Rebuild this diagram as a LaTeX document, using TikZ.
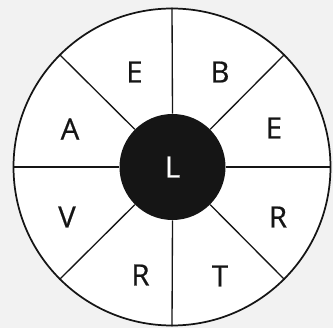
\documentclass[tikz,border=0pt]{standalone}
\usepackage{fontspec}
\setmainfont{Open Sans}
\newfontfamily\wheelfont{Open Sans}[FakeBold=0.6]
\definecolor{backdrop}{HTML}{F2F2F2}
\definecolor{ink}{HTML}{151515}
\tikzset{
  wheel/.style={circle, draw=ink, fill=white, line width=1.3pt, minimum size=237.75pt, inner sep=0pt},
  hub/.style={circle, fill=ink, text=white, minimum size=79.5pt, inner sep=0pt, font=\wheelfont\fontsize{22}{22}\selectfont},
  spoke/.style={draw=ink, line width=1pt},
  letter/.style={text=ink, inner sep=0pt, font=\wheelfont\fontsize{22}{22}\selectfont},
}

\begin{document}
\begin{tikzpicture}[x=0.75pt, y=-0.75pt]
    \fill[backdrop] (0,0) rectangle (333,328);
    \useasboundingbox (0,0) rectangle (333,328);
    \clip (0,0) rectangle (333,328);

    \node[wheel] (rim) at (172,167) {};
    \node[hub] (hub) at (172.5,167) {L};
    \foreach \a in {0,45,...,315}
      \draw[spoke] (hub.\a) -- (rim.\a);

    \node[letter] (topleft) at (134.5,72) {E};
    \node[letter] (topright) at (220,72) {B};
    \node[letter] (upleft) at (70,129) {A};
    \node[letter] (upright) at (274,128) {E};
    \node[letter] (lowleft) at (67,217) {V};
    \node[letter] (lowright) at (278,217) {R};
    \node[letter] (botleft) at (140.5,275) {R};
    \node[letter] (botright) at (220,276) {T};
  \end{tikzpicture}
\end{document}
